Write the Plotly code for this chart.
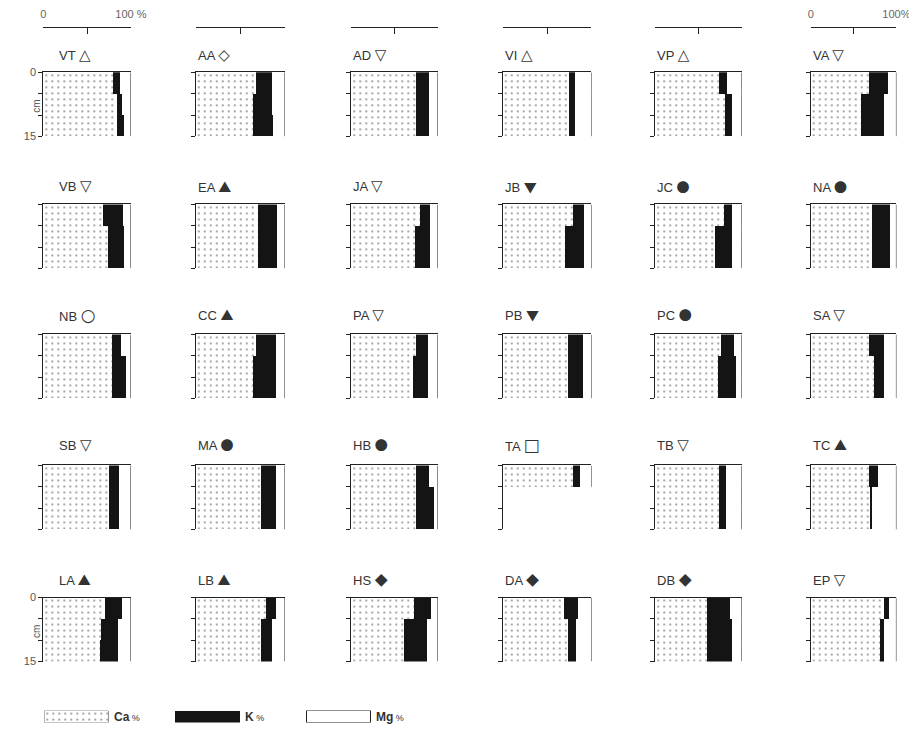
import plotly.graph_objects as go

# ---------------- data ----------------
sites = ["VT", "AA", "AD", "VI", "VP", "VA",
         "VB", "EA", "JA", "JB", "JC", "NA",
         "NB", "CC", "PA", "PB", "PC", "SA",
         "SB", "MA", "HB", "TA", "TB", "TC",
         "LA", "LB", "HS", "DA", "DB", "EP"]
site_symbols = ["△", "◇", "▽", "△", "△", "▽",
                "▽", "▲", "▽", "▼", "●", "●",
                "○", "▲", "▽", "▼", "●", "▽",
                "▽", "●", "●", "□", "▽", "▲",
                "▲", "▲", "◆", "◆", "◆", "▽"]
depth_bounds = [0, 5, 10, 15]          # cm
ca_0_5 = [79, 68, 75, 75, 73, 68, 68, 70, 79, 79, 79, 71, 78, 68, 75, 74, 76, 68,
          75, 74, 75, 79, 74, 68, 70, 79, 72, 69, 60, 86]
ca_5_10 = [84, 65, 75, 75, 80, 59, 74, 70, 74, 70, 69, 71, 78, 64, 71, 74, 72, 74,
           75, 74, 75, None, 74, 69, 66, 74, 61, 74, 60, 81]
ca_10_15 = [84, 65, 75, 75, 80, 59, 74, 70, 74, 70, 69, 71, 78, 64, 71, 74, 72, 74,
            75, 74, 75, None, 74, 69, 65, 74, 61, 74, 60, 81]
k_0_5 = [8, 18, 15, 6, 10, 22, 23, 22, 12, 12, 9, 21, 11, 22, 14, 16, 15, 18,
         11, 16, 15, 8, 8, 10, 20, 11, 20, 16, 26, 5]
k_5_10 = [6, 21, 15, 6, 8, 27, 18, 22, 17, 21, 19, 21, 16, 26, 18, 16, 21, 12,
          11, 16, 21, None, 8, 3, 19, 12, 26, 9, 28, 5]
k_10_15 = [8, 22, 15, 6, 8, 27, 18, 22, 17, 21, 19, 21, 16, 26, 18, 16, 21, 12,
           11, 16, 21, None, 8, 3, 20, 12, 26, 9, 28, 5]
legend_labels = ["Ca", "K", "Mg"]

# ---------------- geometry (page CSS px) ----------------
OFF = 8
FW, FH = 915, 724
col_left = [41, 196.7, 355.5, 510.2, 665.9, 824.7]
col_w = [89.5, 90.6, 88.5, 90.6, 88.6, 87.5]
row_top = [66.4, 200.9, 333.3, 466.7, 601.2]
row_h = 65.2
title_y = [48.5, 182.5, 313.0, 445.4, 582.9]
bracket_y = 20.6


def px_x(p):
    return (p - OFF) / FW


def px_y(p):
    return 1 - (p - OFF) / FH


INK = "#222222"
GREY = "#555555"
FONT = "Liberation Sans, Arial, DejaVu Sans, sans-serif"
FILLED_STYLE = "font-family:Noto Sans CJK JP, DejaVu Sans;font-size:13px"
OUTLINE_STYLE = {"△": "font-family:DejaVu Sans;font-weight:bold;font-size:15px",
                 "▽": "font-family:DejaVu Sans;font-weight:bold;font-size:15px",
                 "◇": "font-family:DejaVu Sans;font-weight:bold;font-size:15px",
                 "○": "font-family:DejaVu Sans;font-weight:bold;font-size:17px",
                 "□": "font-family:DejaVu Sans;font-weight:bold;font-size:17px"}

ca_marker = dict(color="white", line=dict(width=0),
                 pattern=dict(shape=".", fgcolor="#222222", bgcolor="white",
                              size=6, solidity=0.1))
k_marker = dict(color="#141414", line=dict(width=0))
mg_marker = dict(color="white", line=dict(width=0))

fig = go.Figure()
annotations = []
layout_axes = {}

for i, site in enumerate(sites):
    r, c = divmod(i, 6)
    n = i + 1
    xa, ya = f"x{n}", f"y{n}"
    ca_layers = [ca_0_5[i], ca_5_10[i], ca_10_15[i]]
    k_layers = [k_0_5[i], k_5_10[i], k_10_15[i]]
    valid = [j for j in range(3) if ca_layers[j] is not None]
    mids = [(depth_bounds[j] + depth_bounds[j + 1]) / 2 for j in valid]
    ca_v = [ca_layers[j] for j in valid]
    k_v = [k_layers[j] for j in valid]
    mg_v = [100 - a - b for a, b in zip(ca_v, k_v)]
    widths = [depth_bounds[j + 1] - depth_bounds[j] for j in valid]
    for vals, mk, nm in [(ca_v, ca_marker, "Ca %"), (k_v, k_marker, "K %"),
                         (mg_v, mg_marker, "Mg %")]:
        fig.add_trace(go.Bar(x=vals, y=mids, width=widths, orientation="h",
                             marker=mk, name=nm, showlegend=False,
                             xaxis=xa, yaxis=ya, hoverinfo="x+name"))
    # right edge of the stacked bars (total = 100 %)
    totals = [a + b + m for a, b, m in zip(ca_v, k_v, mg_v)]
    edge_y = [depth_bounds[valid[0]]] + [depth_bounds[j + 1] for j in valid]
    edge_x = [totals[0]] + totals
    fig.add_trace(go.Scatter(x=edge_x, y=edge_y, mode="lines",
                             line=dict(color=INK, width=1, shape="hv"),
                             showlegend=False, hoverinfo="skip",
                             xaxis=xa, yaxis=ya))
    x0 = col_left[c]
    x1 = col_left[c] + col_w[c]
    y0 = row_top[r]
    y1 = row_top[r] + row_h
    show_lab = (c == 0 and r in (0, 4))
    layout_axes[f"xaxis{n}"] = dict(
        domain=[px_x(x0), px_x(x1)], anchor=ya, side="top", range=[0, 100],
        showline=True, linecolor=INK, linewidth=1, ticks="",
        showticklabels=False, showgrid=False, zeroline=False, fixedrange=True)
    layout_axes[f"yaxis{n}"] = dict(
        domain=[px_y(y1), px_y(y0)], anchor=xa, range=[15, 0],
        showline=True, linecolor=INK, linewidth=1, ticks="outside",
        ticklen=4, tickcolor=INK, tickvals=depth_bounds,
        ticktext=["0", "", "", "15"], showticklabels=show_lab,
        tickfont=dict(family=FONT, size=11, color=GREY),
        showgrid=False, zeroline=False, fixedrange=True)
    if show_lab:
        annotations.append(dict(
            text="cm", textangle=-90, xref="paper", yref="paper",
            x=px_x(34), y=px_y(y0 + row_h * 0.5 + 2), showarrow=False,
            xanchor="center", yanchor="middle",
            font=dict(family=FONT, size=10, color=GREY)))
    tx = x0 + (13.5 if c == 0 else 0)
    sym = site_symbols[i]
    style = OUTLINE_STYLE.get(sym, FILLED_STYLE)
    annotations.append(dict(
        text=f"{site} <span style='{style}'>{sym}</span>",
        xref="paper", yref="paper",
        x=px_x(tx), y=px_y(title_y[r]), xanchor="left", yanchor="middle",
        showarrow=False, font=dict(family=FONT, size=13, color="#333333")))

# scale brackets above the first row
for c in range(6):
    n = 31 + c
    fig.add_trace(go.Scatter(x=[], y=[], xaxis=f"x{n}", yaxis=f"y{c + 1}",
                             showlegend=False, hoverinfo="skip"))
    lab = c in (0, 5)
    layout_axes[f"xaxis{n}"] = dict(
        overlaying=f"x{c + 1}", anchor="free", position=px_y(bracket_y),
        side="top", range=[0, 100], showline=True, linecolor=INK,
        linewidth=1, ticks="inside", ticklen=6, tickcolor=INK,
        tickvals=[0, 50, 100],
        ticktext=["0", "", "100 %" if c == 0 else "100%"],
        showticklabels=lab, ticklabelstandoff=5,
        tickfont=dict(family=FONT, size=11, color="#666666"),
        showgrid=False, zeroline=False, fixedrange=True)

# legend as its own small subplot
lg_x0, lg_step = 42, 133.8
layout_axes["xaxis40"] = dict(domain=[px_x(lg_x0), px_x(lg_x0 + 3 * lg_step)],
                              anchor="y40", range=[0, 3], visible=False,
                              fixedrange=True)
layout_axes["yaxis40"] = dict(domain=[px_y(728.5), px_y(716.3)], anchor="x40",
                              range=[0, 1], visible=False, fixedrange=True)
leg_markers = [
    dict(color="white", line=dict(width=0.8, color="#777777"),
         pattern=dict(shape=".", fgcolor="#222222", bgcolor="white",
                      size=6, solidity=0.1)),
    dict(color="#141414", line=dict(width=0)),
    dict(color="white", line=dict(width=1, color=INK)),
]
for j, lab in enumerate(legend_labels):
    fig.add_trace(go.Bar(x=[j], y=[1], width=[0.49], offset=0,
                         marker=leg_markers[j], showlegend=False,
                         hoverinfo="skip", xaxis="x40", yaxis="y40"))
    annotations.append(dict(
        text=f"<b>{lab}</b><span style='font-size:9px'> %</span>",
        xref="x40", yref="y40", x=j + 0.515, y=0.5, xanchor="left",
        yanchor="middle", showarrow=False,
        font=dict(family=FONT, size=12, color="#333333")))

fig.update_layout(
    width=FW, height=FH, margin=dict(l=0, r=0, t=0, b=0),
    paper_bgcolor="white", plot_bgcolor="white",
    barmode="stack", showlegend=False,
    annotations=annotations, **layout_axes)

fig.write_html("out.html")
